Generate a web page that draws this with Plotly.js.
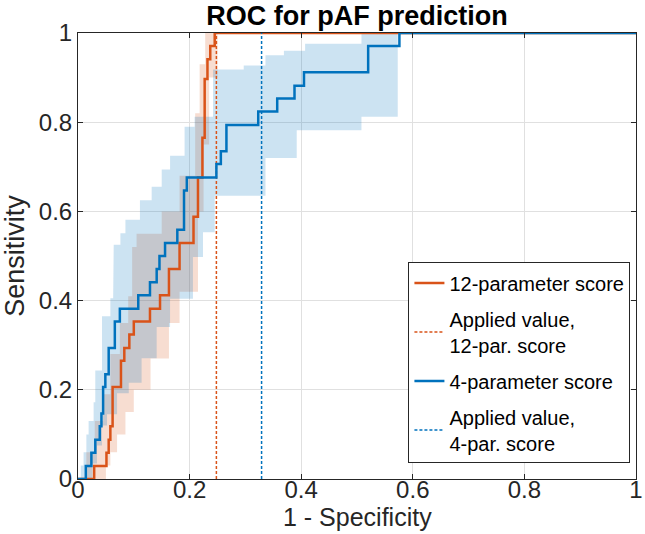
<!DOCTYPE html>
<html>
<head>
<meta charset="utf-8">
<script src="https://cdn.plot.ly/plotly-3.0.1.min.js"></script>
<style>
  html, body { margin: 0; padding: 0; background: #fff; }
  #plot { width: 645px; height: 534px; }
</style>
</head>
<body>
<div id="plot"></div>
<script>
// ROC curve, 4-parameter score (blue), step corners
var fpr4 = [0, 0.014, 0.024, 0.031, 0.039, 0.042, 0.045, 0.049, 0.055, 0.066, 0.075, 0.108, 0.129, 0.141, 0.146, 0.156, 0.178, 0.190, 0.195, 0.248, 0.256, 0.266, 0.323, 0.357, 0.388, 0.405, 0.520, 0.576, 1];
var tpr4 = [0, 0.029, 0.059, 0.088, 0.118, 0.147, 0.206, 0.235, 0.294, 0.353, 0.382, 0.412, 0.441, 0.471, 0.500, 0.529, 0.559, 0.647, 0.676, 0.706, 0.735, 0.794, 0.824, 0.853, 0.882, 0.912, 0.971, 1, 1];

// ROC curve, 12-parameter score (orange)
var fpr12 = [0, 0.029, 0.051, 0.055, 0.058, 0.062, 0.077, 0.083, 0.092, 0.100, 0.129, 0.147, 0.163, 0.182, 0.207, 0.215, 0.223, 0.227, 0.232, 0.237, 0.245, 1];
var tpr12 = [0, 0.029, 0.059, 0.088, 0.118, 0.206, 0.265, 0.294, 0.324, 0.353, 0.382, 0.412, 0.471, 0.529, 0.588, 0.676, 0.765, 0.897, 0.941, 0.971, 1, 1];

// confidence band, 4-parameter score
var band4UpX = [0.005, 0.005, 0.010, 0.010, 0.015, 0.015, 0.019, 0.019, 0.028, 0.028, 0.031, 0.031, 0.043, 0.043, 0.058, 0.058, 0.063, 0.063, 0.064, 0.064, 0.076, 0.076, 0.085, 0.085, 0.111, 0.111, 0.132, 0.132, 0.150, 0.150, 0.165, 0.165, 0.191, 0.191, 0.209, 0.209, 0.242, 0.242, 0.297, 0.297, 0.336, 0.336, 0.369, 0.369, 0.407, 0.407, 0.508, 0.508, 0.573];
var band4UpY = [0, 0.030, 0.030, 0.060, 0.060, 0.100, 0.100, 0.130, 0.130, 0.172, 0.172, 0.243, 0.243, 0.365, 0.365, 0.405, 0.405, 0.467, 0.467, 0.525, 0.525, 0.551, 0.551, 0.581, 0.581, 0.625, 0.625, 0.655, 0.655, 0.694, 0.694, 0.725, 0.725, 0.790, 0.790, 0.812, 0.812, 0.918, 0.918, 0.927, 0.927, 0.950, 0.950, 0.960, 0.960, 0.976, 0.976, 1, 1];
var band4LoX = [0.026, 0.026, 0.034, 0.034, 0.043, 0.043, 0.052, 0.052, 0.070, 0.070, 0.091, 0.091, 0.114, 0.114, 0.141, 0.141, 0.165, 0.165, 0.206, 0.206, 0.224, 0.224, 0.245, 0.245, 0.336, 0.336, 0.392, 0.392, 0.508, 0.508, 0.573, 0.573];
var band4LoY = [0, 0.035, 0.035, 0.075, 0.075, 0.120, 0.120, 0.145, 0.145, 0.192, 0.192, 0.216, 0.216, 0.271, 0.271, 0.341, 0.341, 0.404, 0.404, 0.498, 0.498, 0.553, 0.553, 0.635, 0.635, 0.720, 0.720, 0.782, 0.782, 0.812, 0.812, 1];

// confidence band, 12-parameter score
var band12UpX = [0.015, 0.015, 0.030, 0.030, 0.045, 0.045, 0.058, 0.058, 0.075, 0.075, 0.090, 0.090, 0.097, 0.097, 0.105, 0.105, 0.150, 0.150, 0.182, 0.182, 0.210, 0.210, 0.218, 0.218, 0.228, 0.228, 0.250];
var band12UpY = [0, 0.060, 0.060, 0.130, 0.130, 0.190, 0.190, 0.280, 0.280, 0.350, 0.350, 0.410, 0.410, 0.520, 0.520, 0.550, 0.550, 0.600, 0.600, 0.680, 0.680, 0.820, 0.820, 0.930, 0.930, 1, 1];
var band12LoX = [0.050, 0.050, 0.058, 0.058, 0.070, 0.070, 0.085, 0.085, 0.100, 0.100, 0.130, 0.130, 0.163, 0.163, 0.182, 0.182, 0.215, 0.215, 0.225, 0.225, 0.235, 0.235, 0.250, 0.250];
var band12LoY = [0, 0.030, 0.030, 0.060, 0.060, 0.100, 0.100, 0.150, 0.150, 0.200, 0.200, 0.270, 0.270, 0.350, 0.350, 0.420, 0.420, 0.600, 0.600, 0.750, 0.750, 0.900, 0.900, 1];

// applied cut-off values (1 - specificity)
var applied12 = 0.248;
var applied4 = 0.329;

var tickVals = [0, 0.2, 0.4, 0.6, 0.8, 1];
var tickText = ['0', '0.2', '0.4', '0.6', '0.8', '1'];

var blue = '#0072BD';
var orange = '#D95319';
var ink = '#262626';
var font = 'Liberation Sans, Arial, Helvetica, sans-serif';

function band(upX, upY, loX, loY, color) {
  return {
    x: upX.concat(loX.slice().reverse()),
    y: upY.concat(loY.slice().reverse()),
    mode: 'lines',
    fill: 'toself',
    fillcolor: color,
    line: {width: 0},
    hoverinfo: 'skip',
    showlegend: false
  };
}

var traces = [
  band(band12UpX, band12UpY, band12LoX, band12LoY, 'rgba(217,83,25,0.2)'),
  band(band4UpX, band4UpY, band4LoX, band4LoY, 'rgba(0,114,189,0.2)'),
  {
    x: fpr12, y: tpr12, mode: 'lines', name: '12-parameter score', legendgroup: 'a',
    line: {color: orange, width: 2.5, shape: 'hv'}
  },
  {
    x: [applied12, applied12], y: [0, 1], mode: 'lines', legendgroup: 'b',
    name: 'Applied value,<br>12-par. score',
    line: {color: orange, width: 1.5, dash: '3px,2px'}
  },
  {
    x: fpr4, y: tpr4, mode: 'lines', name: '4-parameter score', legendgroup: 'c',
    line: {color: blue, width: 2.5, shape: 'hv'}
  },
  {
    x: [applied4, applied4], y: [0, 1], mode: 'lines', legendgroup: 'd',
    name: 'Applied value,<br>4-par. score',
    line: {color: blue, width: 1.5, dash: '3px,2px'}
  }
];

var axisBase = {
  range: [0, 1],
  tickvals: tickVals,
  ticktext: tickText,
  ticks: 'inside',
  ticklen: 5,
  tickcolor: ink,
  showline: true,
  linecolor: ink,
  linewidth: 1,
  mirror: 'ticks',
  showgrid: true,
  gridcolor: '#e0e0e0',
  zeroline: false,
  tickfont: {family: font, size: 24, color: ink}
};

var layout = {
  width: 645,
  height: 534,
  margin: {l: 78, r: 9, t: 33, b: 55},
  paper_bgcolor: '#fff',
  plot_bgcolor: '#fff',
  title: {
    text: '<b>ROC for pAF prediction</b>',
    font: {family: font, size: 27, color: '#000'},
    x: 0.5, xref: 'paper', xanchor: 'center',
    y: 0.971, yref: 'container', yanchor: 'middle'
  },
  xaxis: Object.assign({}, axisBase, {
    ticklabelstandoff: -11
  }),
  yaxis: Object.assign({}, axisBase, {
    title: {text: 'Sensitivity', font: {family: font, size: 27, color: ink}, standoff: 10}
  }),
  annotations: [{
    // x-axis title, placed by hand so it clears the tick labels
    text: '1 - Specificity',
    xref: 'paper', yref: 'paper', x: 0.5, y: 0,
    xanchor: 'center', yanchor: 'middle', yshift: -38,
    showarrow: false,
    font: {family: font, size: 25, color: ink}
  }],
  legend: {
    x: 0.99, xanchor: 'right',
    y: 0.035, yanchor: 'bottom',
    bgcolor: '#fff',
    bordercolor: ink,
    borderwidth: 1,
    font: {family: font, size: 20, color: '#000'},
    traceorder: 'grouped',
    tracegroupgap: 7,
    itemwidth: 30
  },
  showlegend: true
};

Plotly.newPlot('plot', traces, layout, {displayModeBar: false, staticPlot: true});
</script>
</body>
</html>
